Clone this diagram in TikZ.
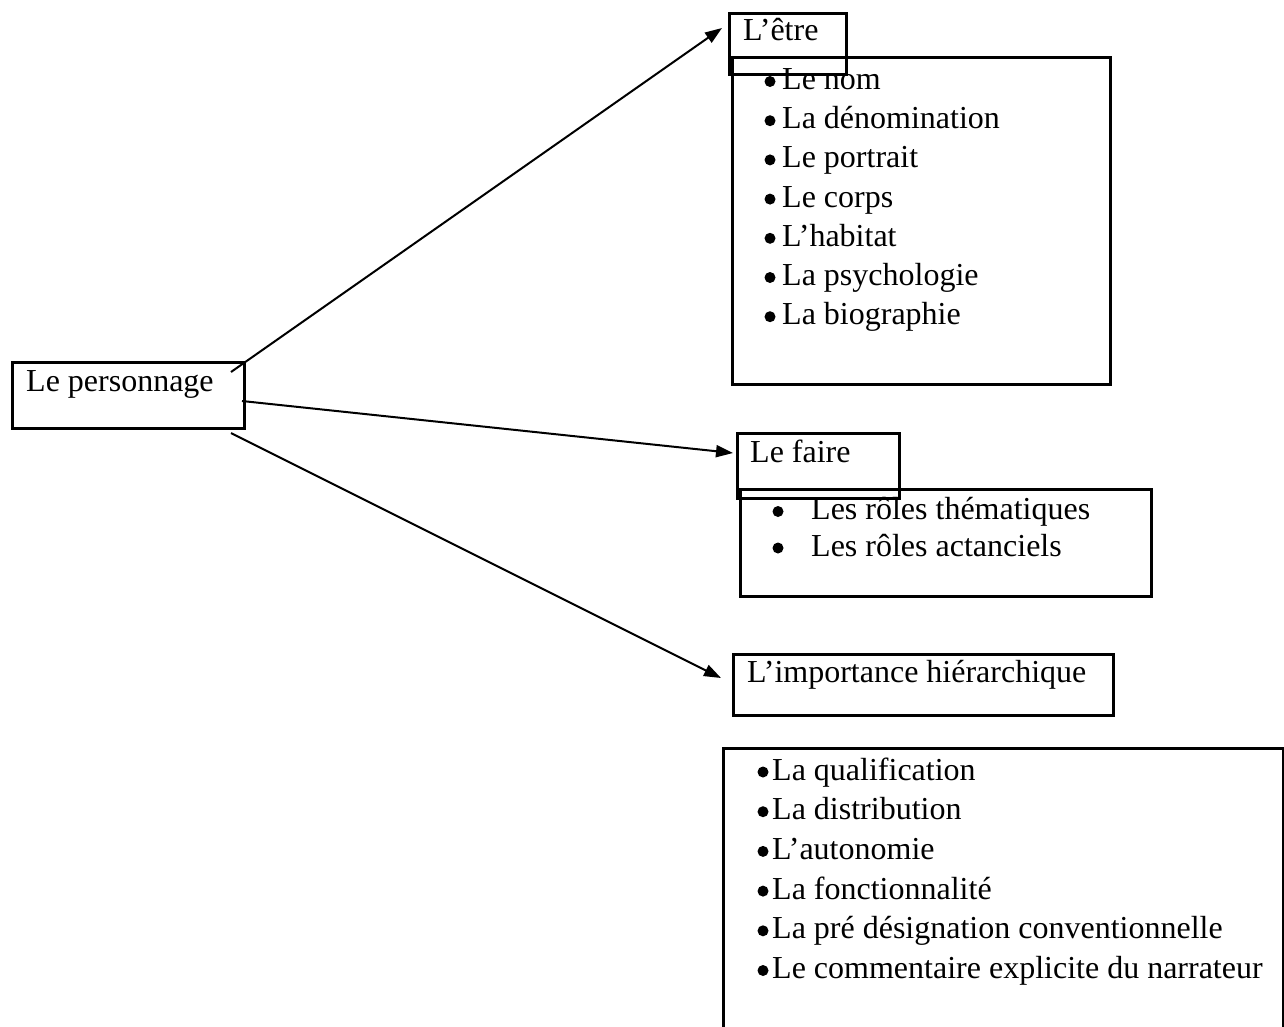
\documentclass[tikz,border=0pt]{standalone}
\usepackage{fontspec}
\setmainfont{Liberation Serif}
\usetikzlibrary{arrows.meta}
\begin{document}
\begin{tikzpicture}[x=1pt,y=-1pt,
  box/.style={draw, line width=2.5pt, rectangle, inner sep=0pt, anchor=north west},
  txt/.style={inner sep=0pt, anchor=base west, font=\fontsize{32}{38}\selectfont},
  bul/.style={circle, fill, inner sep=0pt, minimum size=11pt},
  conn/.style={line width=2pt, -{Triangle[length=17pt,width=12pt]}}]
\useasboundingbox (0,0) rectangle (1284,1026);
\clip (0,0) rectangle (1284,1026);
\fill[white] (0,0) rectangle (1284,1026);

% Le personnage
\node[box, minimum width=232pt, minimum height=66pt] (pers) at (11,361) {};
\node[txt] (perst) at (26,391) {Le personnage};

% L'être
\node[box, minimum width=378pt, minimum height=327pt] (etrelist) at (731,56) {};
\node[box, minimum width=117pt, minimum height=61pt] (etre) at (728,12) {};
\node[txt] (etret) at (743,40) {L’être};
\foreach \t [count=\i from 0] in {Le nom, La dénomination, Le portrait, Le corps, L’habitat, La psychologie, La biographie}{
  \node[bul] (eb\i) at (770,81.5+39.2*\i) {};
  \node[txt] (et\i) at (782,89.5+39.2*\i) {\t};
}

% Le faire
\node[box, minimum width=411pt, minimum height=107pt] (fairelist) at (739,488) {};
\node[box, minimum width=162pt, minimum height=65pt] (faire) at (736,432) {};
\node[txt] (fairet) at (750,462) {Le faire};
\node[bul] (fb0) at (778,511.5) {};
\node[txt] (ft0) at (811,519.5) {Les rôles thématiques};
\node[bul] (fb1) at (778,548) {};
\node[txt] (ft1) at (811,556) {Les rôles actanciels};

% L'importance hiérarchique
\node[box, minimum width=380pt, minimum height=61pt] (imp) at (732,653) {};
\node[txt] (impt) at (747,682) {L’importance hiérarchique};
\node[box, minimum width=560pt, minimum height=320pt] (implist) at (722,747) {};
\foreach \t [count=\i from 0] in {La qualification, La distribution, L’autonomie, La fonctionnalité, La pré désignation conventionnelle, Le commentaire explicite du narrateur}{
  \node[bul] (ib\i) at (763,772+39.7*\i) {};
  \node[txt] (it\i) at (772,780+39.7*\i) {\t};
}

% connectors
\coordinate (s1) at (231,372);
\coordinate (t1) at (722,28);
\coordinate (s2) at (242,401);
\coordinate (t2) at (733,453);
\coordinate (s3) at (231,433);
\coordinate (t3) at (721,678);
\draw[conn] (s1) -- (t1);
\draw[conn] (s2) -- (t2);
\draw[conn] (s3) -- (t3);
\end{tikzpicture}
\end{document}
